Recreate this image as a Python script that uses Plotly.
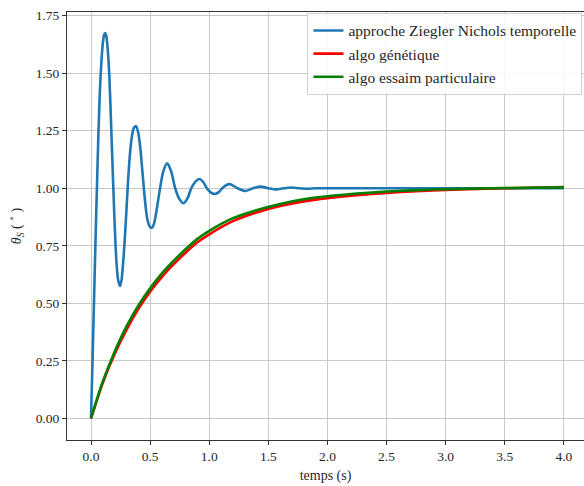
import plotly.graph_objects as go

# Step responses of the closed-loop angle theta_S for three tuning methods
t_zn = [0, 0.014, 0.026, 0.038, 0.05, 0.063, 0.075, 0.088, 0.1, 0.11, 0.12, 0.13,
        0.142, 0.155, 0.172, 0.189, 0.206, 0.218, 0.23, 0.245, 0.258, 0.27, 0.282,
        0.296, 0.31, 0.325, 0.343, 0.362, 0.381, 0.4, 0.418, 0.437, 0.456, 0.475,
        0.495, 0.513, 0.532, 0.55, 0.578, 0.61, 0.643, 0.677, 0.712, 0.746, 0.781,
        0.815, 0.848, 0.882, 0.916, 0.948, 0.98, 1.012, 1.045, 1.078, 1.11, 1.142,
        1.175, 1.24, 1.305, 1.37, 1.435, 1.5, 1.565, 1.63, 1.695, 1.76, 1.83, 1.9,
        2.2, 2.6, 3.0, 3.5, 4.0]
theta_zn = [0, 0.27, 0.52, 0.77, 1.0, 1.24, 1.42, 1.55, 1.63, 1.665, 1.675, 1.66,
            1.6, 1.49, 1.25, 1.0, 0.77, 0.66, 0.6, 0.575, 0.6, 0.665, 0.75,
            0.87, 1.0, 1.12, 1.215, 1.262, 1.27, 1.24, 1.17, 1.06, 0.95, 0.87,
            0.835, 0.828, 0.845, 0.89, 0.98, 1.07, 1.108, 1.075, 1.0, 0.955, 0.935,
            0.955, 1.0, 1.028, 1.04, 1.028, 1.0, 0.982, 0.975, 0.982, 1.0, 1.013,
            1.018, 1.0, 0.988, 1.0, 1.007, 1.0, 0.995, 1.0, 1.003, 1.0, 0.998, 1.0,
            1.0, 1.0, 1.0, 1.0, 1.0]

t_opt = [0, 0.1, 0.2, 0.3, 0.4, 0.5, 0.6, 0.7, 0.8, 0.9, 1.0, 1.2, 1.4, 1.6, 1.8,
         2.0, 2.25, 2.5, 2.75, 3.0, 3.5, 4.0]
theta_ga = [0, 0.155, 0.28, 0.385, 0.475, 0.55, 0.615, 0.67, 0.72, 0.765, 0.80,
            0.857, 0.895, 0.923, 0.943, 0.957, 0.97, 0.98, 0.987, 0.993, 1.0, 1.005]
theta_pso = [0, 0.16, 0.29, 0.40, 0.49, 0.565, 0.63, 0.685, 0.735, 0.78, 0.815,
             0.87, 0.905, 0.932, 0.952, 0.965, 0.977, 0.986, 0.992, 0.996, 1.001, 1.004]

x_ticks = [0.0, 0.5, 1.0, 1.5, 2.0, 2.5, 3.0, 3.5, 4.0]
y_ticks = [0.0, 0.25, 0.5, 0.75, 1.0, 1.25, 1.5, 1.75]

serif = "Liberation Serif, DejaVu Serif, serif"
ink = "#262626"

fig = go.Figure()
fig.add_trace(go.Scatter(x=t_zn, y=theta_zn, mode="lines",
                         name="approche Ziegler Nichols temporelle",
                         line=dict(color="#1f77b4", width=2.6, shape="spline", smoothing=0.8)))
fig.add_trace(go.Scatter(x=t_opt, y=theta_ga, mode="lines", name="algo génétique",
                         line=dict(color="#ff0000", width=2.6, shape="spline", smoothing=0.8)))
fig.add_trace(go.Scatter(x=t_opt, y=theta_pso, mode="lines", name="algo essaim particulaire",
                         line=dict(color="#008000", width=2.6, shape="spline", smoothing=0.8)))

fig.update_layout(
    width=584, height=486,
    margin=dict(l=67, r=0, t=12, b=46),
    paper_bgcolor="white", plot_bgcolor="white",
    font=dict(family=serif, size=13.5, color=ink),
    showlegend=True,
    legend=dict(x=0.997, xanchor="right", y=0.998, yanchor="top",
                bgcolor="rgba(255,255,255,0.85)", bordercolor="#d0d0d0", borderwidth=1,
                font=dict(family=serif, size=15.5, color=ink), tracegroupgap=0,
                itemwidth=30),
    xaxis=dict(range=[-0.203, 4.17], tickvals=x_ticks, tickformat=".1f",
               showgrid=True, gridcolor="#c8c8c8", gridwidth=1, zeroline=False,
               showline=True, linecolor="#333333", linewidth=1, mirror=True,
               ticks="outside", ticklen=4, tickcolor="#333333",
               title=dict(text="temps (s)", standoff=6, font=dict(size=14))),
    yaxis=dict(range=[-0.094, 1.766], tickvals=y_ticks, tickformat=".2f",
               showgrid=True, gridcolor="#c8c8c8", gridwidth=1, zeroline=False,
               showline=True, linecolor="#333333", linewidth=1, mirror=False,
               ticks="outside", ticklen=4, tickcolor="#333333",
               title=dict(text="<i>θ</i><sub><i>S</i></sub> ( <sup>∘</sup> )", standoff=10,
                          font=dict(size=14))),
)

fig.write_html("out.html")
